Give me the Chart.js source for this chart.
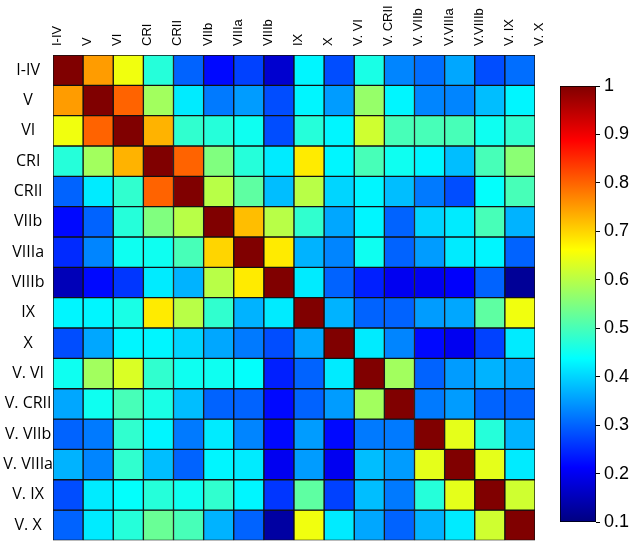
<!DOCTYPE html>
<html>
<head>
<meta charset="utf-8">
<script src="https://cdn.jsdelivr.net/npm/chart.js@4/dist/chart.umd.min.js"></script>
<style>
  html, body { margin: 0; padding: 0; background: #fff; overflow: hidden; }
  #wrap { position: relative; width: 630px; height: 547px; }
  #heat { position: absolute; left: 0; top: 0; }
  #bar { position: absolute; left: 540px; top: 0; }
</style>
</head>
<body>
<div id="wrap">
  <canvas id="heat" width="545" height="550"></canvas>
  <canvas id="bar" width="90" height="547"></canvas>
</div>
<script>
// row names (left) and column labels printed along the top (17 of them, as in the figure)
var rowLabels = ['I-IV', 'V', 'VI', 'CRI', 'CRII', 'VIIb', 'VIIIa', 'VIIIb', 'IX', 'X',
                 'V. VI', 'V. CRII', 'V. VIIb', 'V. VIIIa', 'V. IX', 'V. X'];
var topLabels = ['I-IV', 'V', 'VI', 'CRI', 'CRII', 'VIIb', 'VIIIa', 'VIIIb', 'IX', 'X',
                 'V. VI', 'V. CRII', 'V. VIIb', 'V.VIIIa', 'V.VIIIb', 'V. IX', 'V. X'];

// correlation values, one row per variable
var rI_IV   = [1.00, 0.75, 0.65, 0.47, 0.30, 0.22, 0.27, 0.17, 0.43, 0.28, 0.46, 0.33, 0.31, 0.36, 0.28, 0.31];
var rV      = [0.75, 1.00, 0.80, 0.58, 0.42, 0.32, 0.35, 0.28, 0.43, 0.35, 0.57, 0.43, 0.33, 0.33, 0.38, 0.43];
var rVI     = [0.65, 0.80, 1.00, 0.73, 0.48, 0.47, 0.45, 0.28, 0.47, 0.43, 0.62, 0.50, 0.50, 0.50, 0.45, 0.48];
var rCRI    = [0.47, 0.58, 0.73, 1.00, 0.80, 0.55, 0.47, 0.42, 0.68, 0.43, 0.50, 0.45, 0.43, 0.38, 0.50, 0.56];
var rCRII   = [0.30, 0.42, 0.48, 0.80, 1.00, 0.60, 0.52, 0.38, 0.60, 0.40, 0.43, 0.38, 0.32, 0.28, 0.44, 0.50];
var rVIIb   = [0.22, 0.30, 0.47, 0.55, 0.60, 1.00, 0.72, 0.60, 0.48, 0.36, 0.43, 0.30, 0.40, 0.42, 0.50, 0.37];
var rVIIIa  = [0.25, 0.33, 0.45, 0.45, 0.50, 0.70, 1.00, 0.68, 0.37, 0.33, 0.45, 0.30, 0.35, 0.42, 0.43, 0.30];
var rVIIIb  = [0.15, 0.22, 0.26, 0.42, 0.37, 0.60, 0.68, 1.00, 0.42, 0.30, 0.24, 0.20, 0.20, 0.21, 0.30, 0.12];
var rIX     = [0.43, 0.43, 0.46, 0.68, 0.60, 0.48, 0.37, 0.42, 1.00, 0.37, 0.30, 0.30, 0.35, 0.36, 0.52, 0.65];
var rX      = [0.28, 0.36, 0.43, 0.43, 0.40, 0.36, 0.32, 0.28, 0.36, 1.00, 0.42, 0.33, 0.22, 0.20, 0.27, 0.42];
var rV_VI   = [0.45, 0.58, 0.63, 0.48, 0.45, 0.45, 0.44, 0.24, 0.30, 0.42, 1.00, 0.58, 0.30, 0.35, 0.37, 0.36];
var rV_CRII = [0.36, 0.45, 0.50, 0.46, 0.38, 0.30, 0.30, 0.22, 0.30, 0.35, 0.58, 1.00, 0.32, 0.35, 0.30, 0.30];
var rV_VIIb = [0.30, 0.32, 0.48, 0.43, 0.32, 0.42, 0.33, 0.22, 0.35, 0.22, 0.32, 0.32, 1.00, 0.64, 0.47, 0.37];
var rV_VIIIa= [0.37, 0.33, 0.48, 0.38, 0.30, 0.43, 0.42, 0.20, 0.35, 0.20, 0.38, 0.35, 0.64, 1.00, 0.64, 0.42];
var rV_IX   = [0.28, 0.42, 0.44, 0.47, 0.45, 0.48, 0.43, 0.26, 0.52, 0.27, 0.38, 0.32, 0.47, 0.64, 1.00, 0.62];
var rV_X    = [0.30, 0.42, 0.47, 0.53, 0.50, 0.37, 0.30, 0.13, 0.65, 0.42, 0.36, 0.30, 0.37, 0.42, 0.62, 1.00];

var matrix = [rI_IV, rV, rVI, rCRI, rCRII, rVIIb, rVIIIa, rVIIIb, rIX, rX,
              rV_VI, rV_CRII, rV_VIIb, rV_VIIIa, rV_IX, rV_X];

var cMin = 0.1, cMax = 1;
var colorTicks = [0.1, 0.2, 0.3, 0.4, 0.5, 0.6, 0.7, 0.8, 0.9, 1];

// matlab "jet" colormap
var jetStops = [[0, 0, 0, 128], [0.125, 0, 0, 255], [0.375, 0, 255, 255],
                [0.625, 255, 255, 0], [0.875, 255, 0, 0], [1, 128, 0, 0]];
function jet(v) {
  var t = Math.max(0, Math.min(1, (v - cMin) / (cMax - cMin)));
  for (var i = 1; i < jetStops.length; i++) {
    if (t <= jetStops[i][0]) {
      var a = jetStops[i - 1], b = jetStops[i];
      var f = (t - a[0]) / (b[0] - a[0]);
      return 'rgb(' + Math.round(a[1] + f * (b[1] - a[1])) + ',' +
        Math.round(a[2] + f * (b[2] - a[2])) + ',' + Math.round(a[3] + f * (b[3] - a[3])) + ')';
    }
  }
  return 'rgb(128,0,0)';
}

var colNames = rowLabels.slice();
var datasets = [];
for (var r = 0; r < matrix.length; r++) {
  datasets.push({
    label: rowLabels[r],
    xAxisID: 'x',
    data: matrix[r].map(function() { return [r, r + 1]; }),
    backgroundColor: matrix[r].map(jet),
    borderColor: '#111',
    borderWidth: 1,
    borderSkipped: false,
    barPercentage: 1,
    categoryPercentage: 1,
    grouped: false
  });
}

new Chart(document.getElementById('heat'), {
  type: 'bar',
  data: { labels: colNames, datasets: datasets },
  options: {
    responsive: false,
    animation: false,
    devicePixelRatio: 1,
    layout: { padding: { left: 0, right: 10, top: 0, bottom: 1 } },
    plugins: { legend: { display: false }, tooltip: { enabled: false } },
    scales: {
      x: { type: 'category', display: false, offset: true },
      xt: {
        type: 'category',
        labels: topLabels,
        position: 'top',
        offset: false,
        grid: { display: false, drawTicks: false },
        border: { display: false },
        ticks: {
          autoSkip: false, minRotation: 90, maxRotation: 90, padding: 9, labelOffset: 20,
          color: '#000', font: { family: 'Liberation Sans', size: 13 }
        },
        afterFit: function(s) { s.height = 55; }
      },
      y: {
        type: 'linear',
        min: 0, max: 16, reverse: true,
        grid: { display: false, drawTicks: false },
        border: { display: false },
        afterBuildTicks: function(s) {
          s.ticks = rowLabels.map(function(_, i) { return { value: i + 0.5 }; });
        },
        ticks: {
          crossAlign: 'center', padding: 0, color: '#000',
          font: { family: 'Open Sans', size: 16 },
          callback: function(v) { return rowLabels[Math.floor(v)]; }
        },
        afterFit: function(s) { s.width = 53; }
      }
    }
  }
});

// colour bar
new Chart(document.getElementById('bar'), {
  type: 'bar',
  data: {
    labels: ['c'],
    datasets: [{
      data: [[cMin, cMax]],
      backgroundColor: function(ctx) {
        var a = ctx.chart.chartArea;
        if (!a) return '#888';
        var g = ctx.chart.ctx.createLinearGradient(0, a.bottom, 0, a.top);
        jetStops.forEach(function(s) {
          g.addColorStop(s[0], 'rgb(' + s[1] + ',' + s[2] + ',' + s[3] + ')');
        });
        return g;
      },
      borderColor: '#000',
      borderWidth: 1,
      borderSkipped: false,
      barPercentage: 1,
      categoryPercentage: 1
    }]
  },
  options: {
    responsive: false,
    animation: false,
    devicePixelRatio: 1,
    layout: { padding: { left: 20, right: 0, top: 86, bottom: 25 } },
    plugins: { legend: { display: false }, tooltip: { enabled: false } },
    scales: {
      x: { display: false },
      y: {
        position: 'right',
        min: cMin, max: cMax,
        grid: { drawOnChartArea: false, drawTicks: true, tickLength: 4, color: '#000' },
        border: { display: false },
        afterBuildTicks: function(s) {
          s.ticks = colorTicks.map(function(v) { return { value: v }; });
        },
        ticks: {
          padding: 4, color: '#000',
          font: { family: 'Liberation Sans', size: 18 },
          callback: function(v) { return String(+v.toFixed(1)); }
        },
        afterFit: function(s) { s.width = 34; }
      }
    }
  }
});
</script>
</body>
</html>
